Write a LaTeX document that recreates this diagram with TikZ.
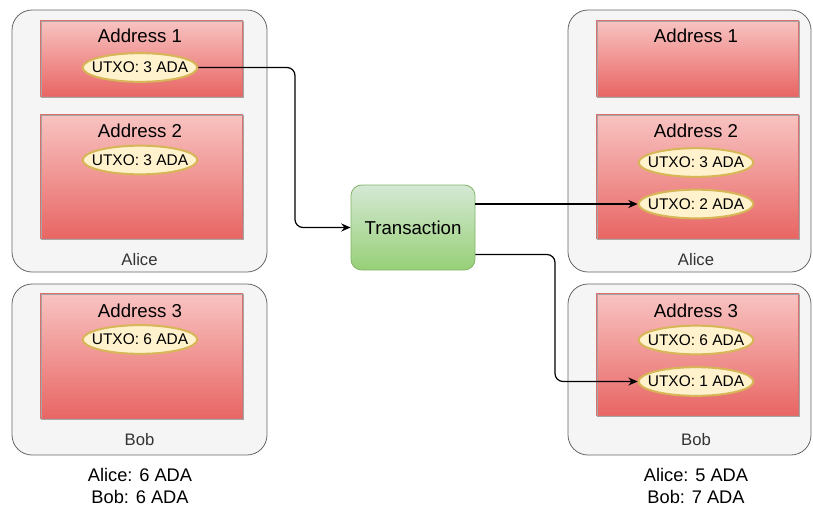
\documentclass[tikz,border=0pt]{standalone}
\usepackage{fontspec}
\setmainfont{Liberation Sans}
\usetikzlibrary{arrows.meta,calc,shapes.geometric}
\definecolor{contfill}{HTML}{F5F5F5}
\definecolor{contline}{HTML}{666666}
\definecolor{redtop}{HTML}{F8C4C2}
\definecolor{redbot}{HTML}{E86664}
\definecolor{redline}{HTML}{D9706C}
\definecolor{utxofill}{HTML}{FFF2CC}
\definecolor{utxoline}{HTML}{D6B656}
\definecolor{grtop}{HTML}{D5E8D4}
\definecolor{grbot}{HTML}{97D077}
\definecolor{grline}{HTML}{82B366}
\definecolor{labgray}{HTML}{333333}
\newcommand\utxolbl[1]{\makebox[0pt]{#1}}
\tikzset{
  container/.style={draw=contline, fill=contfill, line width=0.6pt, rounded corners=15pt, inner sep=0pt},
  addrbox/.style={draw=redline, top color=redtop, bottom color=redbot, line width=0.7pt, inner sep=0pt, minimum width=151.5pt,
    postaction={draw=black!35, line width=0.4pt, transform canvas={shift={(0.8pt,-0.8pt)}}}},
  utxo/.style={ellipse, draw=utxoline, fill=utxofill, line width=1.5pt, minimum width=86pt, minimum height=21.5pt, inner sep=0pt, font=\fontsize{11.6}{13}\selectfont},
  txbox/.style={draw=grline, top color=grtop, bottom color=grbot, rounded corners=8pt, line width=0.6pt, minimum width=93pt, minimum height=63.75pt, inner sep=0pt, font=\fontsize{14}{16}\selectfont},
  addrlabel/.style={font=\fontsize{14}{16}\selectfont, inner sep=0pt},
  ownerlabel/.style={font=\fontsize{12.5}{15}\selectfont, text=labgray, inner sep=0pt},
  sumlabel/.style={font=\fontsize{13.7}{16.5}\selectfont, align=center, inner sep=0pt},
  flow/.style={-{Stealth[length=7pt,width=6pt]}, line width=0.9pt, rounded corners=6pt}
}
\begin{document}
\begin{tikzpicture}[x=0.75pt,y=-0.75pt]
\useasboundingbox (0,0) rectangle (813,508);
% left side
\node[container, minimum width=191.25pt, minimum height=196.5pt] (aliceL) at (139.5,141) {};
\node[container, minimum width=191.25pt, minimum height=128.25pt] (bobL) at (139.5,369.5) {};
\node[addrbox, minimum height=57pt] (a1L) at (141,58) {};
\node[addrbox, minimum height=93pt] (a2L) at (141,176) {};
\node[addrbox, minimum height=93.75pt] (a3L) at (141,355.5) {};
\node[addrlabel] (a1Lt) at (140,36) {Address 1};
\node[addrlabel] (a2Lt) at (140,131) {Address 2};
\node[addrlabel] (a3Lt) at (140,311) {Address 3};
\node[utxo] (u1L) at (140,67.5) {\utxolbl{UTXO: 3 ADA}};
\node[utxo] (u2L) at (140,160) {\utxolbl{UTXO: 3 ADA}};
\node[utxo] (u3L) at (140,339.5) {\utxolbl{UTXO: 6 ADA}};
\node[ownerlabel] (aliceLt) at (139.5,260) {Alice};
\node[ownerlabel] (bobLt) at (139.5,440) {Bob};
\node[sumlabel] (sumL) at (140,486) {Alice: 6 ADA\\Bob: 6 ADA};
% transaction
\node[txbox] (tx) at (413,227.5) {Transaction};
% right side
\node[container, minimum width=182.25pt, minimum height=196.5pt] (aliceR) at (689.5,141) {};
\node[container, minimum width=182.25pt, minimum height=128.25pt] (bobR) at (689.5,369.5) {};
\node[addrbox, minimum height=57pt] (a1R) at (697.5,58) {};
\node[addrbox, minimum height=93pt] (a2R) at (697.5,176) {};
\node[addrbox, minimum height=91.5pt] (a3R) at (697.5,354) {};
\node[addrlabel] (a1Rt) at (696,36) {Address 1};
\node[addrlabel] (a2Rt) at (696,131) {Address 2};
\node[addrlabel] (a3Rt) at (696,311) {Address 3};
\node[utxo] (u2R) at (696,162.5) {\utxolbl{UTXO: 3 ADA}};
\node[utxo] (u2Rn) at (696,204) {\utxolbl{UTXO: 2 ADA}};
\node[utxo] (u3R) at (696,340) {\utxolbl{UTXO: 6 ADA}};
\node[utxo] (u3Rn) at (696,381.5) {\utxolbl{UTXO: 1 ADA}};
\node[ownerlabel] (aliceRt) at (696,260) {Alice};
\node[ownerlabel] (bobRt) at (696,440) {Bob};
\node[sumlabel] (sumR) at (696,486) {Alice: 5 ADA\\Bob: 7 ADA};
% connectors
\coordinate (c1) at (295,140);
\coordinate (c2) at (555,320);
\coordinate (txout2) at ($(tx.east)+(0,27)$);
\draw[flow] (u1L.east) -| (c1) |- (tx.west);
\draw[flow] (tx.east |- u2Rn.west) -- (u2Rn.west);
\draw[flow] (txout2) -| (c2) |- (u3Rn.west);
\end{tikzpicture}
\end{document}
